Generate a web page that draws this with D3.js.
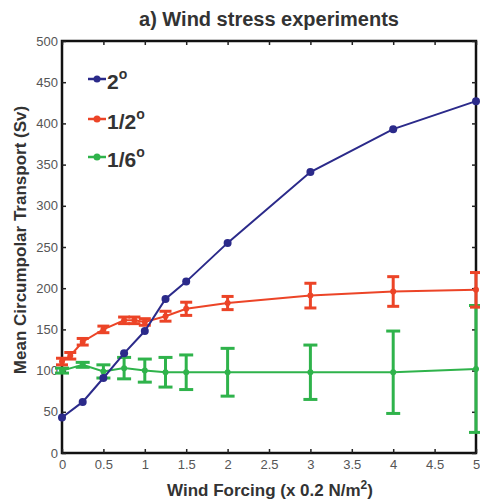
<!DOCTYPE html>
<html><head><meta charset="utf-8">
<script src="https://cdn.jsdelivr.net/npm/d3@7/dist/d3.min.js"></script>
<style>body{margin:0;background:#fff}svg{display:block}</style>
</head><body>
<svg id="c" width="480" height="501"></svg>
<script>
const xTicks = [0,0.5,1,1.5,2,2.5,3,3.5,4,4.5,5];
const xTickLabels = ["0","0.5","1","1.5","2","2.5","3","3.5","4","4.5","5"];
const yTicks = [0,50,100,150,200,250,300,350,400,450,500];

const blueX = [0,0.25,0.5,0.75,1,1.25,1.5,2,3,4,5];
const blueY = [43,62,91,121,148,187,208,255,341,393,427];

const redX = [0,0.1,0.25,0.5,0.75,0.875,1,1.25,1.5,2,3,4,5];
const redY = [111,118,135,150,161,161,159,166,175,182,191,196,198];
const redErr = [4,4,4,4,4,4,4,6,8,8,15,18,21];

const greenX = [0,0.25,0.5,0.75,1,1.25,1.5,2,3,4,5];
const greenY = [100,107,99,103,100,98,98,98,98,98,102];
const greenErr = [3,3,8,13,14,18,21,29,33,50,77];

const seriesNames = ["2","1/2","1/6"];
const colors = ["#2b2a8a","#ec4427","#2fb34b"];

const FONT = "Liberation Sans, Arial, sans-serif";
const svg = d3.select("#c");
const L=62, R=476, T=41, B=453;
const x = d3.scaleLinear().domain([0,5]).range([L,R]);
const y = d3.scaleLinear().domain([0,500]).range([B,T]);

// frame first (series drawn over it)
svg.append("rect").attr("x",L).attr("y",T).attr("width",R-L).attr("height",B-T)
  .attr("fill","none").attr("stroke","#111").attr("stroke-width",2.5);

const g = svg.append("g");
const ax = d3.axisBottom(x).tickValues(xTicks).tickFormat((d,i)=>xTickLabels[i]).tickSizeInner(-4).tickSizeOuter(0).tickPadding(7);
const ay = d3.axisLeft(y).tickValues(yTicks).tickSizeInner(-4).tickSizeOuter(0).tickPadding(4);
const axT = d3.axisTop(x).tickValues(xTicks).tickFormat("").tickSizeInner(-4).tickSizeOuter(0);
const ayR = d3.axisRight(y).tickValues(yTicks).tickFormat("").tickSizeInner(-4).tickSizeOuter(0);
function style(sel){
  sel.select(".domain").remove();
  sel.selectAll("line").attr("stroke","#222").attr("stroke-width",1.5);
  sel.selectAll("text").attr("fill","#555").style("font-family",FONT).style("font-size","13px");
}
g.append("g").attr("transform",`translate(0,${B})`).call(ax).call(style);
g.append("g").attr("transform",`translate(${L},0)`).call(ay).call(style);
g.append("g").attr("transform",`translate(0,${T})`).call(axT).call(style);
g.append("g").attr("transform",`translate(${R},0)`).call(ayR).call(style);

function drawSeries(xs, ys, errs, color, r, cap){
  const pts = xs.map((d,i)=>({x:d,y:ys[i],e:errs?errs[i]:0}));
  const line = d3.line().x(d=>x(d.x)).y(d=>y(d.y));
  svg.append("path").datum(pts).attr("d",line).attr("fill","none").attr("stroke",color).attr("stroke-width",2);
  if(errs){
    const eg = svg.append("g").attr("stroke",color).attr("stroke-width",3);
    pts.forEach(p=>{
      eg.append("line").attr("x1",x(p.x)).attr("x2",x(p.x)).attr("y1",y(p.y-p.e)).attr("y2",y(p.y+p.e));
      eg.append("line").attr("x1",x(p.x)-cap).attr("x2",x(p.x)+cap).attr("y1",y(p.y-p.e)).attr("y2",y(p.y-p.e));
      eg.append("line").attr("x1",x(p.x)-cap).attr("x2",x(p.x)+cap).attr("y1",y(p.y+p.e)).attr("y2",y(p.y+p.e));
    });
  }
  svg.append("g").selectAll("circle").data(pts).join("circle")
    .attr("cx",d=>x(d.x)).attr("cy",d=>y(d.y)).attr("r",r).attr("fill",color);
}
drawSeries(greenX, greenY, greenErr, colors[2], 3, 7);
drawSeries(redX, redY, redErr, colors[1], 3, 6);
drawSeries(blueX, blueY, null, colors[0], 4, 0);

// legend
const legY = [79,119,157];
seriesNames.forEach((n,i)=>{
  svg.append("line").attr("x1",88).attr("x2",106).attr("y1",legY[i]).attr("y2",legY[i]).attr("stroke",colors[i]).attr("stroke-width",2.5);
  svg.append("circle").attr("cx",97).attr("cy",legY[i]).attr("r",3.5).attr("fill",colors[i]);
  const t = svg.append("text").attr("x",107).attr("y",legY[i]+10)
    .style("font-family",FONT).style("font-size","21px").style("font-weight","bold").attr("fill","#333");
  t.append("tspan").text(n);
  t.append("tspan").attr("dy",-10).style("font-size","14px").text("o");
});

// title
svg.append("text").attr("x",269).attr("y",26).attr("text-anchor","middle")
  .style("font-family",FONT).style("font-size","20px").style("font-weight","bold").attr("fill","#333")
  .text("a) Wind stress experiments");

// x label
const xl = svg.append("text").attr("x",270).attr("y",496).attr("text-anchor","middle")
  .style("font-family",FONT).style("font-size","17px").style("font-weight","bold").attr("fill","#333");
xl.append("tspan").text("Wind Forcing (x 0.2 N/m");
xl.append("tspan").attr("dy",-7).style("font-size","12px").text("2");
xl.append("tspan").attr("dy",7).text(")");

// y label
svg.append("text").attr("transform","translate(26,240) rotate(-90)").attr("text-anchor","middle")
  .style("font-family",FONT).style("font-size","17px").style("font-weight","bold").attr("fill","#333")
  .text("Mean Circumpolar Transport (Sv)");
</script>
</body></html>
